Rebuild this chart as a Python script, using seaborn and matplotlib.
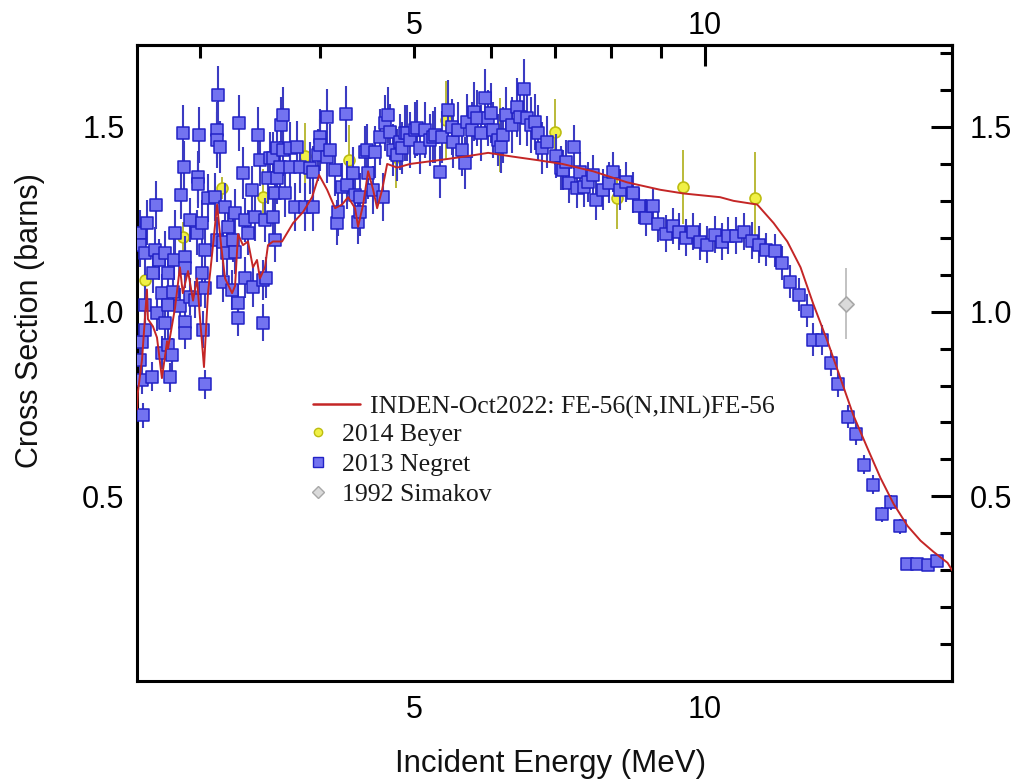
import matplotlib
matplotlib.use("Agg")
import matplotlib.pyplot as plt
from matplotlib.ticker import FixedLocator, FixedFormatter
from matplotlib.lines import Line2D
import seaborn as sns

# ---------------- data ----------------
# Evaluation curve: INDEN-Oct2022 Fe-56(n,inl)
inden_energy = [2.585, 2.59, 2.616, 2.647, 2.653, 2.685, 2.711, 2.743, 2.777, 2.783,
                2.830, 2.863, 2.883, 2.919, 2.954, 2.982, 3.004, 3.032, 3.061, 3.098,
                3.128, 3.158, 3.188, 3.242, 3.265, 3.288, 3.327, 3.367, 3.407, 3.440,
                3.464, 3.506, 3.531, 3.573, 3.651, 3.749, 3.839, 3.922, 3.988, 4.065,
                4.143, 4.212, 4.273, 4.345, 4.376, 4.429, 4.482, 4.536, 4.579, 4.634,
                4.690, 4.803, 4.954, 5.296, 5.647, 5.965, 6.317, 6.720, 7.116, 7.661,
                8.307, 8.986, 9.496, 10.36, 10.70, 11.32, 11.77, 12.16, 12.55, 12.94,
                13.38, 13.80, 14.23, 14.72, 15.18, 15.66, 16.19, 16.70, 17.22, 17.81,
                18.0]
inden_xs = [0.735, 0.78, 0.87, 1.06, 0.98, 0.96, 0.93, 0.82, 0.92, 0.90,
            1.01, 1.12, 1.05, 1.11, 1.03, 1.09, 0.98, 0.85, 1.05, 1.18,
            1.29, 1.18, 1.09, 1.05, 1.07, 1.21, 1.18, 1.19, 1.12, 1.14,
            1.09, 1.12, 1.18, 1.19, 1.19, 1.24, 1.27, 1.31, 1.37, 1.33,
            1.28, 1.29, 1.31, 1.28, 1.23, 1.29, 1.38, 1.33, 1.28, 1.33,
            1.40, 1.39, 1.40, 1.41, 1.42, 1.43, 1.42, 1.41, 1.40, 1.38,
            1.35, 1.33, 1.32, 1.31, 1.30, 1.29, 1.24, 1.19, 1.12, 1.02,
            0.92, 0.82, 0.72, 0.63, 0.55, 0.48, 0.42, 0.38, 0.35, 0.32,
            0.30]

# 2014 Beyer
beyer_energy = [2.635, 2.884, 3.165, 3.490, 3.857, 4.283, 4.792, 5.398, 6.138,
                6.998, 8.111, 9.492, 11.27]
beyer_xs = [1.086, 1.203, 1.335, 1.311, 1.422, 1.411, 1.419, 1.519, 1.478,
            1.486, 1.308, 1.338, 1.308]
beyer_err = [0.02, 0.04, 0.03, 0.075, 0.09, 0.095, 0.085, 0.105, 0.10,
             0.09, 0.085, 0.10, 0.125]

# 1992 Simakov
simakov_energy = [14.0]
simakov_xs = [1.022]
simakov_err = [0.095]

# 2013 Negret, below 3 MeV
negret_e_a = [2.604, 2.604, 2.604, 2.616, 2.616, 2.622, 2.635, 2.635, 2.635, 2.647,
              2.679, 2.685, 2.698, 2.704, 2.711, 2.724, 2.743, 2.743, 2.763, 2.763,
              2.784, 2.784, 2.784, 2.797, 2.810, 2.817, 2.824, 2.831, 2.863, 2.870,
              2.884, 2.891, 2.898, 2.898, 2.898, 2.898, 2.933, 2.933, 2.968, 2.982,
              2.989, 2.989, 2.996]
negret_xs_a = [1.214, 1.181, 0.870, 0.919, 0.816, 0.719, 1.159, 1.019, 0.951, 1.241,
               0.824, 1.105, 1.168, 1.289, 0.997, 1.141, 1.051, 0.889, 1.159, 0.970,
               1.105, 1.019, 0.911, 0.822, 0.884, 1.054, 1.141, 1.214, 1.014, 1.316,
               1.484, 1.392, 1.149, 1.119, 0.973, 0.943, 1.249, 1.041, 1.032, 1.214,
               1.365, 1.346, 1.478]
negret_err_a = [0.06, 0.06, 0.045, 0.045, 0.04, 0.035, 0.06, 0.05, 0.05, 0.06,
                0.04, 0.055, 0.06, 0.065, 0.05, 0.055, 0.05, 0.045, 0.06, 0.05,
                0.055, 0.05, 0.045, 0.04, 0.045, 0.05, 0.055, 0.06, 0.05, 0.065,
                0.075, 0.07, 0.055, 0.055, 0.05, 0.045, 0.06, 0.05, 0.05, 0.06,
                0.07, 0.065, 0.075]

# 2013 Negret, 3 - 5 MeV
negret_e_b = [3.018, 3.018, 3.025, 3.040, 3.040, 3.040, 3.061, 3.113, 3.128, 3.128,
              3.128, 3.135, 3.150, 3.173, 3.173, 3.188, 3.203, 3.211, 3.241, 3.249,
              3.265, 3.265, 3.288, 3.288, 3.296, 3.327, 3.343, 3.343, 3.367, 3.399,
              3.407, 3.424, 3.448, 3.465, 3.490, 3.490, 3.506, 3.515, 3.531, 3.548,
              3.574, 3.574, 3.591, 3.591, 3.608, 3.608, 3.634, 3.643, 3.660, 3.660,
              3.678, 3.722, 3.722, 3.766, 3.784, 3.811, 3.857, 3.904, 3.932, 3.932,
              3.978, 3.998, 3.998, 4.065, 4.065, 4.094, 4.143, 4.163, 4.173, 4.213,
              4.253, 4.263, 4.324, 4.345, 4.376, 4.397, 4.397, 4.450, 4.471, 4.482,
              4.535, 4.558, 4.612, 4.645, 4.667, 4.701, 4.724, 4.758, 4.803, 4.838,
              4.861, 4.896, 4.918, 4.953]
negret_xs_b = [1.241, 1.105, 0.951, 1.168, 1.065, 0.803, 1.308, 1.311, 1.492, 1.465,
               1.195, 1.586, 1.446, 1.189, 1.081, 1.284, 1.159, 1.230, 1.059, 1.195,
               1.268, 1.162, 1.024, 0.984, 1.511, 1.376, 1.249, 1.092, 1.214, 1.330,
               1.068, 1.257, 1.478, 1.411, 1.086, 0.970, 1.249, 1.092, 1.362, 1.416,
               1.416, 1.257, 1.322, 1.195, 1.443, 1.362, 1.392, 1.505, 1.532, 1.438,
               1.322, 1.443, 1.392, 1.284, 1.446, 1.392, 1.284, 1.389, 1.378, 1.284,
               1.424, 1.473, 1.451, 1.527, 1.419, 1.438, 1.384, 1.241, 1.270, 1.338,
               1.535, 1.343, 1.376, 1.316, 1.243, 1.311, 1.270, 1.432, 1.438, 1.376,
               1.330, 1.432, 1.473, 1.311, 1.511, 1.532, 1.486, 1.438, 1.424, 1.459,
               1.443, 1.484, 1.484, 1.465]
negret_err_b = [0.06, 0.055, 0.05, 0.06, 0.055, 0.04, 0.065, 0.065, 0.075, 0.075,
                0.06, 0.08, 0.07, 0.06, 0.055, 0.065, 0.06, 0.06, 0.055, 0.06,
                0.065, 0.06, 0.05, 0.05, 0.075, 0.07, 0.06, 0.055, 0.06, 0.065,
                0.055, 0.065, 0.075, 0.07, 0.055, 0.05, 0.06, 0.055, 0.07, 0.07,
                0.07, 0.065, 0.065, 0.06, 0.07, 0.07, 0.07, 0.075, 0.075, 0.07,
                0.065, 0.07, 0.07, 0.065, 0.07, 0.07, 0.065, 0.07, 0.07, 0.065,
                0.07, 0.075, 0.07, 0.075, 0.07, 0.07, 0.07, 0.06, 0.065, 0.065,
                0.075, 0.065, 0.07, 0.065, 0.06, 0.065, 0.065, 0.07, 0.07, 0.07,
                0.065, 0.07, 0.075, 0.065, 0.075, 0.075, 0.075, 0.07, 0.07, 0.075,
                0.07, 0.075, 0.075, 0.075]

# 2013 Negret, 5 - 7 MeV
negret_e_c = [5.013, 5.037, 5.073, 5.134, 5.195, 5.232, 5.258, 5.321, 5.346, 5.423,
              5.475, 5.488, 5.554, 5.607, 5.648, 5.674, 5.742, 5.769, 5.811, 5.867,
              5.923, 5.965, 6.008, 6.037, 6.110, 6.153, 6.183, 6.227, 6.317, 6.392,
              6.438, 6.499, 6.546, 6.609, 6.672, 6.720, 6.784, 6.866]
negret_xs_c = [1.492, 1.497, 1.443, 1.492, 1.465, 1.473, 1.478, 1.378, 1.473, 1.546,
               1.500, 1.459, 1.492, 1.438, 1.403, 1.514, 1.492, 1.541, 1.524, 1.484,
               1.578, 1.524, 1.538, 1.492, 1.465, 1.446, 1.478, 1.532, 1.505, 1.554,
               1.527, 1.603, 1.524, 1.505, 1.514, 1.484, 1.443, 1.459]
negret_err_c = [0.075, 0.075, 0.07, 0.075, 0.07, 0.07, 0.075, 0.07, 0.07, 0.08,
                0.075, 0.07, 0.075, 0.07, 0.07, 0.075, 0.075, 0.08, 0.075, 0.075,
                0.08, 0.075, 0.08, 0.075, 0.07, 0.07, 0.075, 0.075, 0.075, 0.08,
                0.075, 0.08, 0.075, 0.075, 0.075, 0.075, 0.07, 0.07]

# 2013 Negret, 7 - 10 MeV
negret_e_d = [7.015, 7.098, 7.132, 7.184, 7.236, 7.322, 7.374, 7.427, 7.498, 7.570,
              7.661, 7.716, 7.845, 7.958, 8.034, 8.169, 8.287, 8.427, 8.548, 8.692,
              8.837, 8.943, 9.116, 9.269, 9.402, 9.560, 9.721, 9.885]
negret_xs_d = [1.422, 1.389, 1.384, 1.405, 1.349, 1.446, 1.335, 1.378, 1.338, 1.351,
               1.370, 1.303, 1.330, 1.349, 1.378, 1.330, 1.351, 1.322, 1.286, 1.254,
               1.286, 1.238, 1.211, 1.232, 1.216, 1.200, 1.216, 1.189]
negret_err_d = [0.06, 0.06, 0.055, 0.06, 0.055, 0.06, 0.055, 0.055, 0.055, 0.055,
                0.055, 0.055, 0.055, 0.055, 0.055, 0.055, 0.055, 0.055, 0.05, 0.05,
                0.05, 0.05, 0.05, 0.05, 0.05, 0.05, 0.05, 0.05]

# 2013 Negret, above 10 MeV
negret_e_e = [10.05, 10.24, 10.41, 10.57, 10.77, 10.98, 11.17, 11.37, 11.57, 11.80,
              12.02, 12.25, 12.49, 12.73, 12.94, 13.22, 13.48, 13.73, 14.06, 14.33,
              14.61, 14.93, 15.25, 15.58, 15.89, 16.19, 16.58, 16.98, 17.35]
negret_xs_e = [1.181, 1.208, 1.189, 1.205, 1.205, 1.216, 1.192, 1.181, 1.168, 1.165,
               1.132, 1.081, 1.046, 1.003, 0.924, 0.924, 0.862, 0.803, 0.716, 0.670,
               0.586, 0.532, 0.451, 0.484, 0.419, 0.316, 0.316, 0.314, 0.324]
negret_err_e = [0.05, 0.05, 0.05, 0.05, 0.05, 0.05, 0.05, 0.05, 0.045, 0.045,
                0.045, 0.045, 0.045, 0.045, 0.045, 0.04, 0.035, 0.035, 0.03, 0.03,
                0.025, 0.025, 0.02, 0.02, 0.02, 0.015, 0.015, 0.015, 0.015]

# axis ticks / labels
x_major_ticks = [10]
x_major_labels = ["10"]
x_minor_ticks = [3, 4, 5, 6, 7, 8, 9]
x_minor_labels = ["", "", "5", "", "", "", ""]
y_major_ticks = [0.5, 1.0, 1.5]
y_major_labels = ["0.5", "1.0", "1.5"]
y_minor_ticks = [0.1, 0.2, 0.3, 0.4, 0.6, 0.7, 0.8, 0.9, 1.1, 1.2, 1.3, 1.4, 1.6, 1.7]

legend_labels = ["INDEN-Oct2022: FE-56(N,INL)FE-56", "2014 Beyer", "2013 Negret",
                 "1992 Simakov"]

# ---------------- assemble ----------------
negret_energy = negret_e_a + negret_e_b + negret_e_c + negret_e_d + negret_e_e
negret_xs = negret_xs_a + negret_xs_b + negret_xs_c + negret_xs_d + negret_xs_e
negret_err = negret_err_a + negret_err_b + negret_err_c + negret_err_d + negret_err_e
n = min(len(negret_energy), len(negret_xs), len(negret_err))
negret_energy, negret_xs, negret_err = negret_energy[:n], negret_xs[:n], negret_err[:n]

sns.set_theme(style="white")
plt.rcParams["font.family"] = ["Liberation Sans", "DejaVu Sans"]

RED = "#c42626"
BLUE_FILL = "#7373f0"
BLUE_EDGE = "#2222c6"
BLUE_BAR = "#3b3bc2"
YEL_FILL = "#f0f046"
YEL_EDGE = "#bdbd10"
YEL_BAR = "#b4b42a"
GRAY_FILL = "#dadada"
GRAY_EDGE = "#a8a8a8"
GRAY_BAR = "#bdbdbd"

fig = plt.figure(figsize=(10.15, 7.82), dpi=100, facecolor="white")
ax = fig.add_axes([137 / 1015, 101 / 782, 815 / 1015, 636 / 782])
ax.set_facecolor("white")

# Beyer
ax.errorbar(beyer_energy, beyer_xs, yerr=beyer_err, fmt="none", ecolor=YEL_BAR,
            elinewidth=1.3, zorder=2)
sns.scatterplot(x=beyer_energy, y=beyer_xs, marker="o", s=62, color=YEL_FILL,
                edgecolor=YEL_EDGE, linewidth=1.2, ax=ax, zorder=3, legend=False)

# Negret
ax.errorbar(negret_energy, negret_xs, yerr=negret_err, fmt="none", ecolor=BLUE_BAR,
            elinewidth=1.5, zorder=4)
sns.scatterplot(x=negret_energy, y=negret_xs, marker="s", s=68, color=BLUE_FILL,
                edgecolor=BLUE_EDGE, linewidth=1.1, ax=ax, zorder=5, legend=False)

# evaluation
sns.lineplot(x=inden_energy, y=inden_xs, sort=False, estimator=None, color=RED,
             linewidth=1.4, ax=ax, zorder=6)

# Simakov
ax.errorbar(simakov_energy, simakov_xs, yerr=simakov_err, fmt="none", ecolor=GRAY_BAR,
            elinewidth=1.3, zorder=7)
sns.scatterplot(x=simakov_energy, y=simakov_xs, marker="D", s=60, color=GRAY_FILL,
                edgecolor=GRAY_EDGE, linewidth=1.2, ax=ax, zorder=8, legend=False)

ax.set_xscale("log")
ax.set_xlim(2.585, 18.0)
ax.set_ylim(0.0, 1.722)

TICK_W = 2.2
for sp in ax.spines.values():
    sp.set_visible(True)
    sp.set_color("black")
    sp.set_linewidth(TICK_W)

ax.xaxis.set_major_locator(FixedLocator(x_major_ticks))
ax.xaxis.set_major_formatter(FixedFormatter(x_major_labels))
ax.xaxis.set_minor_locator(FixedLocator(x_minor_ticks))
ax.xaxis.set_minor_formatter(FixedFormatter(x_minor_labels))
ax.yaxis.set_major_locator(FixedLocator(y_major_ticks))
ax.yaxis.set_major_formatter(FixedFormatter(y_major_labels))
ax.yaxis.set_minor_locator(FixedLocator(y_minor_ticks))

ax.tick_params(which="both", direction="in", top=False, right=False, width=TICK_W,
               color="black", labelsize=22, labelcolor="black")
ax.tick_params(which="major", length=15)
ax.tick_params(which="minor", length=9)
ax.tick_params(axis="x", which="both", pad=10)
ax.tick_params(axis="y", which="both", pad=9)

# top axis
secx = ax.secondary_xaxis("top")
secx.xaxis.set_major_locator(FixedLocator(x_major_ticks))
secx.xaxis.set_major_formatter(FixedFormatter(x_major_labels))
secx.xaxis.set_minor_locator(FixedLocator(x_minor_ticks))
secx.xaxis.set_minor_formatter(FixedFormatter(x_minor_labels))
secx.tick_params(which="both", direction="in", width=TICK_W, color="black",
                 labelsize=22, labelcolor="black", pad=3)
secx.tick_params(which="major", length=15)
secx.tick_params(which="minor", length=9)
secx.spines["top"].set_linewidth(TICK_W)
secx.spines["top"].set_color("black")

# right axis
secy = ax.secondary_yaxis("right")
secy.yaxis.set_major_locator(FixedLocator(y_major_ticks))
secy.yaxis.set_major_formatter(FixedFormatter(y_major_labels))
secy.yaxis.set_minor_locator(FixedLocator(y_minor_ticks))
secy.tick_params(which="both", direction="in", width=TICK_W, color="black",
                 labelsize=22, labelcolor="black", pad=13)
secy.tick_params(which="major", length=15)
secy.tick_params(which="minor", length=9)
secy.spines["right"].set_linewidth(TICK_W)
secy.spines["right"].set_color("black")

ax.set_xlabel("Incident Energy (MeV)", fontsize=22.5, color="#111111")
ax.xaxis.set_label_coords(0.507, -0.107)
ax.set_ylabel("Cross Section (barns)", fontsize=22, color="#111111")
ax.yaxis.set_label_coords(-0.113, 0.566)

# legend (two blocks so the line handle is longer than the marker handles)
serif = {"family": ["Liberation Serif", "DejaVu Serif"], "size": 18.5}
h_line = [Line2D([0], [0], color=RED, linewidth=1.8)]
leg1 = ax.legend(h_line, legend_labels[:1], loc="center left",
                 bbox_to_anchor=(0.216, 0.431), frameon=False, borderpad=0,
                 borderaxespad=0, handlelength=1.83, handletextpad=0.39, prop=serif)
for t in leg1.get_texts():
    t.set_color("#1a1a1a")
ax.add_artist(leg1)

h_marks = [
    Line2D([0], [0], linestyle="none", marker="o", markersize=6,
           markerfacecolor=YEL_FILL, markeredgecolor=YEL_EDGE, markeredgewidth=1.0),
    Line2D([0], [0], linestyle="none", marker="s", markersize=6.5,
           markerfacecolor=BLUE_FILL, markeredgecolor=BLUE_EDGE, markeredgewidth=1.0),
    Line2D([0], [0], linestyle="none", marker="D", markersize=6.5,
           markerfacecolor=GRAY_FILL, markeredgecolor=GRAY_EDGE, markeredgewidth=1.0),
]
leg2 = ax.legend(h_marks, legend_labels[1:], loc="center left",
                 bbox_to_anchor=(0.214, 0.340), frameon=False, borderpad=0,
                 borderaxespad=0, handlelength=0.5, handletextpad=0.68,
                 labelspacing=0.27, prop=serif)
for t in leg2.get_texts():
    t.set_color("#1a1a1a")

fig.savefig("out.png", dpi=100, facecolor="white")
